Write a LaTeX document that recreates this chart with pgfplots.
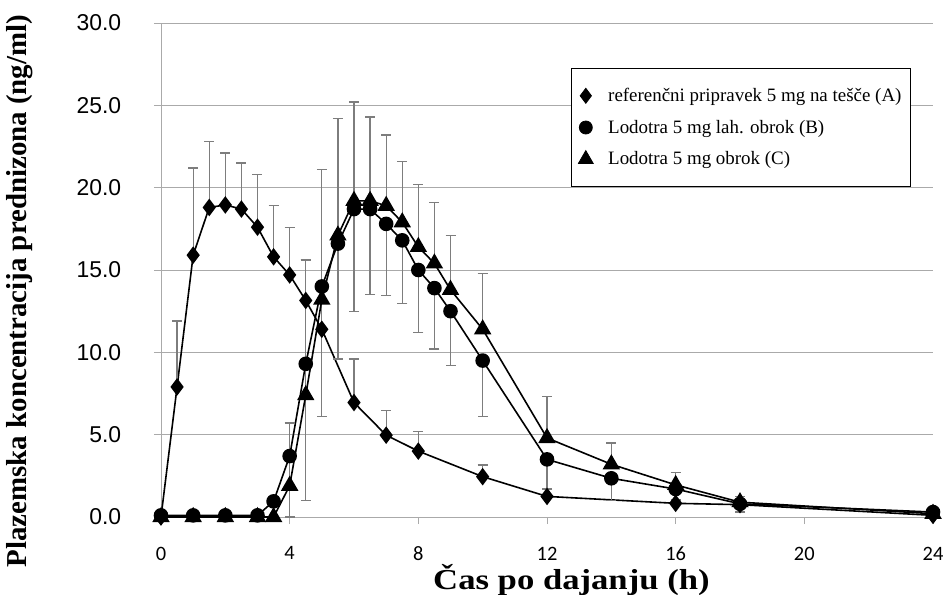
\documentclass[border=0pt]{standalone}
\usepackage{pgfplots}
\pgfplotsset{compat=1.18}
\usepackage{fontspec}
\usepackage{graphicx}
\setmainfont{Liberation Serif}
\newfontfamily\ysans{Liberation Sans}
\newfontfamily\xsans{Carlito}

\definecolor{gridgray}{RGB}{170,170,170}
\definecolor{errgray}{RGB}{125,125,125}

\begin{document}
\begin{tikzpicture}
\begin{axis}[
    name=ax,
    at={(0,0)}, anchor=south west,
    scale only axis,
    width=772bp, height=494bp,
    xmin=0, xmax=24, ymin=0, ymax=30,
    xtick={0,4,...,24},
    ytick={0,5,...,30},
    axis x line*=bottom,
    axis y line*=left,
    axis line style={gridgray, line width=0.9bp},
    every tick/.style={gridgray, line width=0.9bp},
    tick align=outside,
    major tick length=7bp,
    ymajorgrids,
    grid style={gridgray, line width=0.9bp},
    clip=false,
    /pgf/number format/assume math mode=true,
    yticklabel style={font=\ysans\fontsize{23}{26}\selectfont, anchor=east, inner sep=0pt, xshift=-32bp,
        /pgf/number format/.cd, fixed, fixed zerofill, precision=1},
    xticklabel style={font=\xsans\fontsize{20.5}{24}\selectfont, anchor=north, inner sep=0pt, yshift=-22bp},
    xlabel={\scalebox{1.2}[1]{Čas po dajanju (h)}},
    xlabel style={font=\bfseries\fontsize{29}{32}\selectfont, at={(axis description cs:0.5317,-0.1275)}, anchor=center},
    ylabel={Plazemska koncentracija prednizona (ng/ml)},
    ylabel style={font=\bfseries\fontsize{29}{32}\selectfont, at={(axis description cs:-0.1826,0.4575)}, anchor=center},
    legend style={at={(axis description cs:0.5311,0.9089)}, anchor=north west,
        draw=black, line width=0.8bp, fill=white,
        font=\fontsize{19}{22}\selectfont,
        inner xsep=7bp, inner ysep=18bp, row sep=13bp,
        cells={anchor=west}},
    legend image code/.code={\path (0bp,0bp) (27bp,0bp); \draw[#1, only marks] plot coordinates {(7bp,0bp)};},
    line width=1.6bp,
    error bars/error bar style={errgray, line width=1.3bp},
    error bars/error mark=|,
    error bars/error mark options={errgray, line width=1.3bp, mark size=5bp},
]

% A - diamonds, plus errors only
\addplot[black, mark=diamond*, mark size=7.5bp, mark options={solid, fill=black},
    error bars/.cd, y dir=plus, y explicit] coordinates {
    (0,0) +- (0,0)
    (0.5,7.9) +- (0,4.0)
    (1,15.9) +- (0,5.3)
    (1.5,18.8) +- (0,4.0)
    (2,18.95) +- (0,3.15)
    (2.5,18.7) +- (0,2.8)
    (3,17.6) +- (0,3.2)
    (3.5,15.8) +- (0,3.1)
    (4,14.7) +- (0,2.9)
    (4.5,13.15) +- (0,2.45)
    (5,11.4) +- (0,2.6)
    (6,6.95) +- (0,2.65)
    (7,4.97) +- (0,1.5)
    (8,4.0) +- (0,1.2)
    (10,2.45) +- (0,0.7)
    (12,1.25) +- (0,0.45)
    (16,0.83) +- (0,0.2)
    (18,0.75) +- (0,0.3)
    (24,0.1) +- (0,0.1)
};
\addlegendentry{referenčni pripravek 5 mg na tešče (A)}

% B - circles, minus errors only
\addplot[black, mark=*, mark size=6.5bp, mark options={solid, fill=black},
    error bars/.cd, y dir=minus, y explicit] coordinates {
    (0,0.1) +- (0,0)
    (1,0.1) +- (0,0)
    (2,0.1) +- (0,0)
    (3,0.1) +- (0,0)
    (3.5,0.95) +- (0,0)
    (4,3.7) +- (0,3.7)
    (4.5,9.3) +- (0,8.3)
    (5,14.0) +- (0,7.9)
    (5.5,16.6) +- (0,7.0)
    (6,18.7) +- (0,6.2)
    (6.5,18.7) +- (0,5.2)
    (7,17.8) +- (0,4.35)
    (7.5,16.8) +- (0,3.85)
    (8,15.0) +- (0,3.8)
    (8.5,13.9) +- (0,3.7)
    (9,12.5) +- (0,3.3)
    (10,9.5) +- (0,3.4)
    (12,3.5) +- (0,1.8)
    (14,2.35) +- (0,1.35)
    (16,1.7) +- (0,0.8)
    (18,0.8) +- (0,0.5)
    (24,0.3) +- (0,0.1)
};
\addlegendentry{Lodotra 5 mg lah. obrok (B)}

% C - triangles, plus errors only
\addplot[black, mark=triangle*, mark size=8.5bp, mark options={solid, fill=black},
    error bars/.cd, y dir=plus, y explicit] coordinates {
    (0,0) +- (0,0)
    (1,0) +- (0,0)
    (2,0) +- (0,0)
    (3,0) +- (0,0)
    (3.5,0) +- (0,0)
    (4,1.9) +- (0,3.8)
    (4.5,7.4) +- (0,8.2)
    (5,13.2) +- (0,7.9)
    (5.5,17.1) +- (0,7.1)
    (6,19.2) +- (0,6.0)
    (6.5,19.2) +- (0,5.1)
    (7,18.9) +- (0,4.3)
    (7.5,17.9) +- (0,3.7)
    (8,16.4) +- (0,3.8)
    (8.5,15.4) +- (0,3.7)
    (9,13.8) +- (0,3.3)
    (10,11.4) +- (0,3.4)
    (12,4.8) +- (0,2.5)
    (14,3.2) +- (0,1.3)
    (16,1.95) +- (0,0.75)
    (18,0.9) +- (0,0.35)
    (24,0.2) +- (0,0.1)
};
\addlegendentry{Lodotra 5 mg obrok (C)}

\end{axis}
\pgfresetboundingbox
\path[use as bounding box] (-161bp,-78bp) rectangle (783bp,517bp);
\end{tikzpicture}
\end{document}
